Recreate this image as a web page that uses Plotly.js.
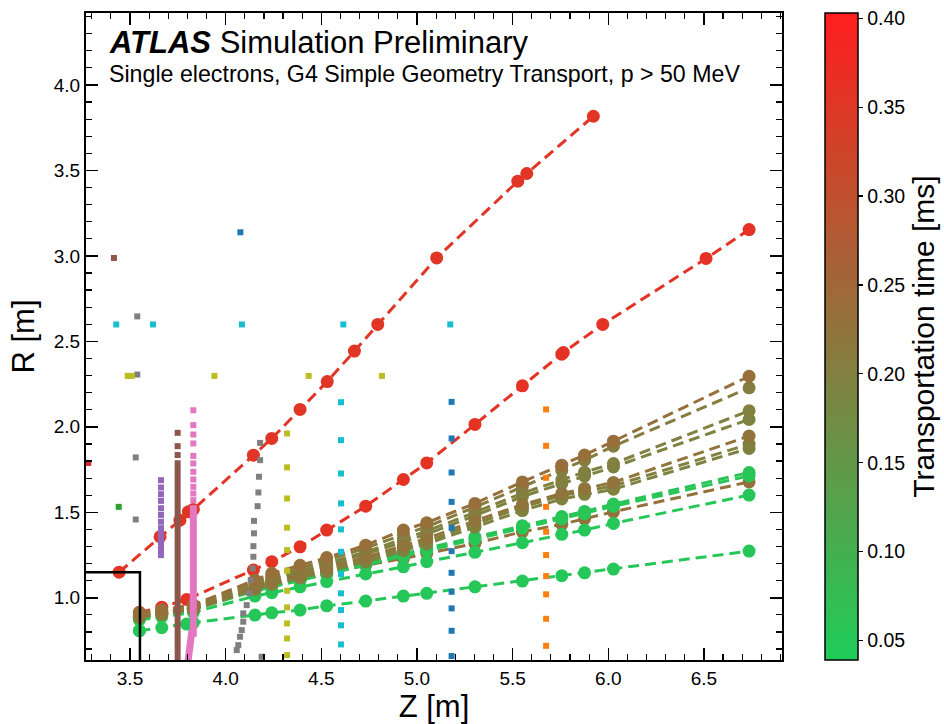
<!DOCTYPE html>
<html><head><meta charset="utf-8">
<script src="https://cdn.plot.ly/plotly-3.0.1.min.js"></script>
<style>html,body{margin:0;padding:0;background:#fff}#chart{width:944px;height:724px}</style>
</head><body><div id="chart"></div>
<script>
// ---- trajectory data (Z [m], R [m]) ----
const zBundle = [3.549, 3.666, 3.831, 4.153, 4.241, 4.389, 4.528, 4.732, 4.929, 5.051, 5.303, 5.551, 5.757, 5.876, 6.027, 6.736];
const rA = [0.912, 0.930, 0.958, 1.104, 1.143, 1.190, 1.235, 1.308, 1.396, 1.439, 1.552, 1.678, 1.776, 1.835, 1.916, 2.296];
const rB = [0.906, 0.924, 0.952, 1.092, 1.128, 1.172, 1.218, 1.290, 1.370, 1.415, 1.530, 1.650, 1.745, 1.805, 1.887, 2.228];
const rC = [0.900, 0.918, 0.947, 1.080, 1.114, 1.156, 1.200, 1.268, 1.345, 1.390, 1.500, 1.612, 1.690, 1.735, 1.785, 2.094];
const rD = [0.896, 0.914, 0.943, 1.072, 1.105, 1.146, 1.188, 1.255, 1.330, 1.372, 1.480, 1.592, 1.668, 1.712, 1.765, 2.043];
const rE = [0.892, 0.910, 0.938, 1.062, 1.094, 1.133, 1.173, 1.236, 1.306, 1.347, 1.450, 1.545, 1.610, 1.640, 1.675, 1.946];
const rF = [0.888, 0.906, 0.934, 1.055, 1.086, 1.124, 1.162, 1.222, 1.290, 1.330, 1.432, 1.530, 1.598, 1.625, 1.655, 1.899];
const rG = [0.884, 0.902, 0.930, 1.048, 1.078, 1.115, 1.152, 1.210, 1.275, 1.315, 1.413, 1.510, 1.578, 1.605, 1.635, 1.874];
const rH = [0.885, 0.905, 0.935, 1.048, 1.072, 1.112, 1.150, 1.205, 1.255, 1.290, 1.355, 1.422, 1.475, 1.505, 1.548, 1.733];
const rI = [0.880, 0.900, 0.930, 1.040, 1.064, 1.102, 1.138, 1.192, 1.242, 1.276, 1.342, 1.408, 1.462, 1.492, 1.535, 1.713];
const rJ = [0.890, 0.908, 0.936, 1.044, 1.068, 1.104, 1.140, 1.190, 1.230, 1.260, 1.318, 1.386, 1.430, 1.462, 1.503, 1.678];
const rK = [0.870, 0.888, 0.915, 1.010, 1.030, 1.064, 1.095, 1.139, 1.181, 1.211, 1.266, 1.322, 1.371, 1.396, 1.435, 1.601];
const zL = [3.549, 3.666, 3.796, 3.831, 4.153, 4.241, 4.389, 4.528, 4.732, 4.929, 5.051, 5.303, 5.551, 5.757, 5.876, 6.027, 6.736];
const rL = [0.807, 0.825, 0.846, 0.854, 0.899, 0.912, 0.928, 0.953, 0.981, 1.010, 1.026, 1.064, 1.098, 1.129, 1.146, 1.168, 1.273];
const zRed1 = [3.443, 3.657, 3.761, 3.805, 3.831, 4.145, 4.241, 4.389, 4.531, 4.673, 4.795, 5.103, 5.527, 5.574, 5.922];
const rRed1 = [1.150, 1.357, 1.454, 1.503, 1.517, 1.834, 1.932, 2.102, 2.265, 2.443, 2.599, 2.988, 3.437, 3.482, 3.817];
const zRed2 = [3.549, 3.666, 3.796, 4.145, 4.241, 4.389, 4.528, 4.732, 4.929, 5.051, 5.303, 5.551, 5.757, 5.765, 5.971, 6.511, 6.736];
const rRed2 = [0.915, 0.945, 0.990, 1.162, 1.211, 1.298, 1.396, 1.536, 1.692, 1.789, 2.014, 2.240, 2.425, 2.435, 2.599, 2.985, 3.154];
// transportation time [ms] per track (drawing order)
const trackNames = ['Red2', 'J', 'H', 'I', 'K', 'L', 'G', 'F', 'D', 'C', 'E', 'B', 'A', 'Red1'];
const trackTimes = [0.360, 0.230, 0.060, 0.055, 0.050, 0.050, 0.195, 0.200, 0.195, 0.200, 0.225, 0.205, 0.235, 0.355];

// ---- detector element hits (squares) ----
const blueZ = [4.077, 5.181, 5.181, 5.181, 5.181, 5.181, 5.181, 5.181, 5.181, 5.181, 5.181, 5.181];
const blueR = [3.138, 2.146, 1.932, 1.733, 1.561, 1.409, 1.273, 1.146, 1.035, 0.938, 0.807, 0.659];
const orangeZ = [5.675, 5.675, 5.675, 5.675, 5.675, 5.675, 5.675, 5.675, 5.675, 5.675];
const orangeR = [2.102, 1.889, 1.702, 1.532, 1.386, 1.250, 1.127, 1.020, 0.877, 0.719];
const greenZ = [3.441];
const greenR = [1.532];
const redZ = [3.282];
const redR = [1.789];
const purpleZ = [3.662, 3.662, 3.662, 3.662, 3.662, 3.662, 3.662];
const purpleR = [1.688, 1.645, 1.606, 1.567, 1.524, 1.485, 1.445];
const purpleBarZ = [3.662, 3.662];
const purpleBarR = [1.425, 1.232];
const brownZ = [3.416, 3.749, 3.749, 3.749];
const brownR = [2.988, 1.965, 1.887, 1.835];
const brownBarZ = [3.749, 3.749];
const brownBarR = [1.805, 0.55];
const pinkZ = [3.831, 3.831, 3.831, 3.831, 3.831, 3.831, 3.831, 3.831, 3.831, 3.831, 3.831];
const pinkR = [2.097, 2.010, 1.955, 1.903, 1.830, 1.786, 1.737, 1.692, 1.649, 1.610, 1.571];
const pinkBarZ = [3.831, 3.831, 3.822, 3.800];
const pinkBarR = [1.541, 0.793, 0.793, 0.60];
const grayZ = [3.538, 3.538, 3.530, 3.530, 4.180, 4.180, 4.174, 4.171, 4.167, 4.148, 4.148, 4.145, 4.145, 4.141, 4.131, 4.124, 4.110, 4.092, 4.092, 4.084, 4.075, 4.066, 4.058, 4.188];
const grayR = [2.646, 2.306, 1.821, 1.458, 1.906, 1.805, 1.708, 1.616, 1.536, 1.450, 1.377, 1.302, 1.240, 1.172, 1.104, 1.026, 0.957, 0.909, 0.860, 0.811, 0.772, 0.723, 0.694, 0.655];
const oliveZ = [3.488, 3.509, 3.941, 4.434, 4.817, 4.321, 4.321, 4.321, 4.321, 4.321, 4.321, 4.321, 4.321, 4.321, 4.321, 4.321];
const oliveR = [2.298, 2.298, 2.298, 2.298, 2.298, 1.961, 1.763, 1.581, 1.410, 1.279, 1.158, 1.041, 0.944, 0.850, 0.762, 0.665];
const cyanZ = [3.428, 3.620, 4.085, 4.615, 5.174, 4.603, 4.603, 4.603, 4.603, 4.603, 4.603, 4.603, 4.603, 4.603, 4.603, 4.603];
const cyanR = [2.599, 2.599, 2.599, 2.599, 2.599, 2.144, 1.922, 1.727, 1.552, 1.400, 1.269, 1.139, 1.026, 0.928, 0.839, 0.727];
const boxZ = [3.2, 3.552, 3.552];
const boxR = [1.149, 1.149, 0.55];

// colour scale
const cMin = 0.039, cMax = 0.403;
const cLow = [30, 205, 90], cHigh = [255, 30, 30];
const colorscale = [[0, 'rgb(30,205,90)'], [1, 'rgb(255,30,30)']];
function cmap(t) {
  const f = Math.max(0, Math.min(1, (t - cMin) / (cMax - cMin)));
  const c = cLow.map((v, i) => Math.round(v + (cHigh[i] - v) * f));
  return 'rgb(' + c.join(',') + ')';
}

const trackData = {
  A: [zBundle, rA], B: [zBundle, rB], C: [zBundle, rC], D: [zBundle, rD], E: [zBundle, rE],
  F: [zBundle, rF], G: [zBundle, rG], H: [zBundle, rH], I: [zBundle, rI], J: [zBundle, rJ],
  K: [zBundle, rK], L: [zL, rL], Red1: [zRed1, rRed1], Red2: [zRed2, rRed2]
};

const traces = [];
trackNames.forEach((name, i) => {
  const t = trackTimes[i];
  const [z, r] = trackData[name];
  traces.push({
    type: 'scatter', mode: 'lines+markers', x: z, y: r,
    line: {color: cmap(t), width: 3, dash: '11px,6px'},
    marker: {size: 13, color: cmap(t)},
    showlegend: false, hoverinfo: 'skip'
  });
});
// colorbar carrier
traces.push({
  type: 'scatter', mode: 'markers', x: [zL[0]], y: [rL[0]],
  marker: {size: 13, color: [trackTimes[5]], colorscale: colorscale, cmin: cMin, cmax: cMax,
    showscale: true,
    colorbar: {
      x: 1.0618, xanchor: 'left', xref: 'paper', xpad: 0, ypad: 0,
      y: 0.5, yanchor: 'middle', len: 1, lenmode: 'fraction', thickness: 33,
      outlinewidth: 1.5, outlinecolor: '#000',
      tickvals: [0.05, 0.10, 0.15, 0.20, 0.25, 0.30, 0.35, 0.40], tickformat: '.2f',
      tickprefix: '\u00a0',
      ticks: 'outside', ticklen: 5, tickwidth: 1.2, tickcolor: '#000',
      tickfont: {size: 19.5, color: '#000'},
      title: {text: 'Transportation time [ms]', side: 'right', font: {size: 30, color: '#000'}}
    }},
  showlegend: false, hoverinfo: 'skip'
});

function sq(z, r, color) {
  return {type: 'scatter', mode: 'markers', x: z, y: r,
    marker: {symbol: 'square', size: 6, color: color}, showlegend: false, hoverinfo: 'skip'};
}
function bar(z, r, color, w) {
  return {type: 'scatter', mode: 'lines', x: z, y: r,
    line: {color: color, width: w}, showlegend: false, hoverinfo: 'skip'};
}
traces.push(sq(blueZ, blueR, '#1f77b4'));
traces.push(sq(orangeZ, orangeR, '#ff7f0e'));
traces.push(sq(greenZ, greenR, '#2ca02c'));
traces.push(sq(redZ, redR, '#d62728'));
traces.push(sq(purpleZ, purpleR, '#9467bd'));
traces.push(bar(purpleBarZ, purpleBarR, '#9467bd', 6));
traces.push(sq(brownZ, brownR, '#8c564b'));
traces.push(bar(brownBarZ, brownBarR, '#8c564b', 6));
traces.push(sq(pinkZ, pinkR, '#e377c2'));
traces.push(bar(pinkBarZ, pinkBarR, '#e377c2', 7));
traces.push(sq(grayZ, grayR, '#7f7f7f'));
traces.push(sq(oliveZ, oliveR, '#bcbd22'));
traces.push(sq(cyanZ, cyanR, '#17becf'));
traces.push(bar(boxZ, boxR, '#000', 2.5));

const fontFam = 'Liberation Sans, Arial, Helvetica, sans-serif';
const axisCommon = {
  showgrid: false, zeroline: false, showline: true, linecolor: '#000', linewidth: 2,
  mirror: 'allticks', ticks: 'inside', ticklen: 12, tickwidth: 1.5, tickcolor: '#000',
  tickformat: '.1f', tickfont: {size: 19, color: '#000'}, automargin: false,
  minor: {ticks: 'inside', ticklen: 6, tickwidth: 1.2, tickcolor: '#000', dtick: 0.1, showgrid: false}
};
const layout = {
  width: 944, height: 724,
  margin: {l: 86, r: 162, t: 13, b: 64, autoexpand: false},
  paper_bgcolor: '#fff', plot_bgcolor: '#fff',
  font: {family: fontFam, color: '#000'},
  xaxis: Object.assign({}, axisCommon, {
    range: [3.27, 6.908], dtick: 0.5, tick0: 3.5,
    title: {text: 'Z [m]', font: {size: 31}, standoff: 8}
  }),
  yaxis: Object.assign({}, axisCommon, {
    range: [0.636, 4.421], dtick: 0.5, tick0: 0,
    title: {text: 'R [m]', font: {size: 31}, standoff: 10}
  }),
  annotations: [
    {xref: 'paper', yref: 'paper', x: 0.0297, y: 0.9547, xanchor: 'left', yanchor: 'middle',
     text: '<b><i>ATLAS</i></b> Simulation Preliminary', showarrow: false, font: {size: 31, color: '#000'}},
    {xref: 'paper', yref: 'paper', x: 0.0297, y: 0.9053, xanchor: 'left', yanchor: 'middle',
     text: 'Single electrons, G4 Simple Geometry Transport, p &gt; 50 MeV', showarrow: false, font: {size: 23.2, color: '#000'}}
  ]
};
Plotly.newPlot('chart', traces, layout, {displayModeBar: false, staticPlot: true});
</script></body></html>
